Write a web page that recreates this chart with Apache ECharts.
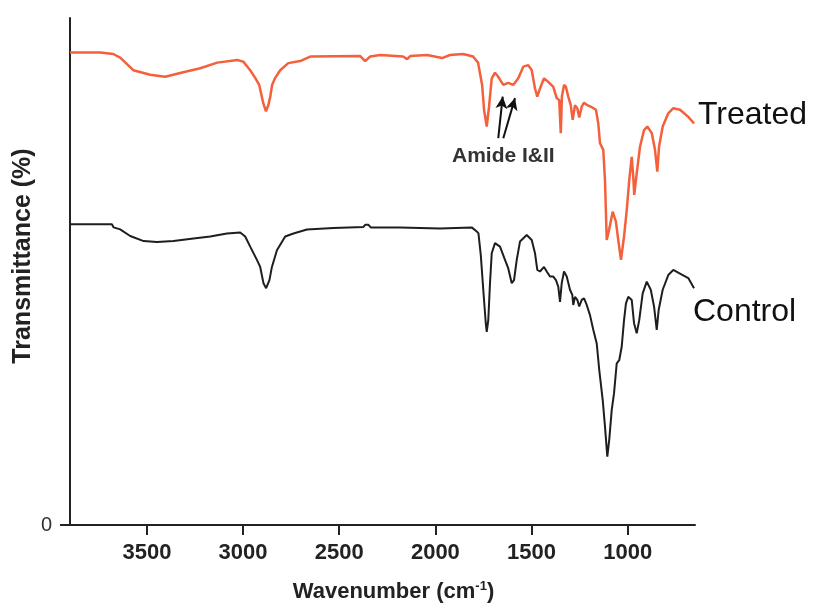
<!DOCTYPE html>
<html>
<head>
<meta charset="utf-8">
<script src="https://cdn.jsdelivr.net/npm/echarts@6/dist/echarts.min.js"></script>
<style>
html,body{margin:0;padding:0;background:#fff;}
#chart{width:815px;height:611px;}
</style>
</head>
<body>
<div id="chart"></div>
<script>
// Wavenumber (cm-1) and transmittance (arbitrary %, 0 at axis bottom)
var treatedX = [3900,3742,3675,3639,3571,3483,3405,3311,3223,3134,3030,2999,2963,2937,2916,2895,2881,2869,2859,2849,2833,2807,2765,2703,2651,2391,2365,2339,2287,2168,2147,2131,2043,1965,1924,1856,1804,1778,1757,1747,1733,1721,1707,1690,1673,1647,1621,1595,1569,1543,1517,1499,1482,1470,1456,1435,1413,1387,1369,1356,1348,1342,1331,1321,1309,1296,1286,1274,1262,1252,1239,1227,1210,1187,1165,1153,1144,1127,1118,1109,1097,1078,1061,1049,1035,1019,1005,992,979,971,966,953,936,915,898,875,858,846,837,818,789,763,728,685,655];
var treatedY = [93.2,93.2,92.9,92.2,89.7,88.8,88.4,89.3,90.1,91.2,91.7,91.4,89.7,88.2,86.8,83.2,81.6,82.8,84.4,86.8,88.2,89.7,91.1,91.5,92.4,92.5,91.5,92.4,92.7,92.4,91.9,92.5,92.7,92.1,92.7,92.9,92.4,91.2,86.8,81.9,78.6,82.5,88.1,89.2,88.4,86.8,87.2,86.8,88.1,90.4,90.7,89.7,86.1,84.5,86.1,88.1,87.4,86.4,84.2,83.8,77.3,84.5,86.8,86.4,84.5,82.8,79.9,82.8,82.2,80.4,82.5,83.3,82.8,82.4,81.9,79.2,75.3,74.0,68.0,56.2,58.2,61.8,59.8,56.2,52.3,56.9,62.1,68.0,72.6,68.7,65.1,69.4,74.6,77.9,78.6,77.3,74.0,69.7,74.6,78.6,81.2,82.2,81.9,80.5,79.2];
var controlX = [3900,3682,3673,3639,3587,3517,3448,3362,3258,3171,3084,3015,2989,2963,2928,2911,2894,2880,2863,2850,2824,2781,2738,2668,2530,2374,2365,2348,2336,2183,1976,1811,1785,1776,1764,1751,1738,1733,1725,1716,1707,1690,1664,1638,1621,1603,1591,1577,1560,1525,1499,1482,1470,1456,1435,1421,1404,1387,1373,1361,1352,1343,1331,1317,1300,1288,1283,1274,1262,1252,1239,1227,1213,1196,1179,1161,1148,1130,1118,1106,1096,1083,1071,1057,1044,1031,1019,1009,997,979,967,953,940,922,901,880,863,849,839,818,789,763,728,685,655];
var controlY = [59.3,59.3,58.7,58.3,57.0,56.0,55.8,56.0,56.5,56.9,57.5,57.7,56.9,54.9,52.3,50.9,47.7,46.7,48.3,50.9,54.2,56.9,57.5,58.3,58.6,58.8,59.2,59.2,58.7,58.7,58.5,58.7,57.9,57.5,53.3,46.4,39.8,38.1,40.4,47.7,53.6,55.6,54.9,52.3,50.6,47.7,48.3,52.3,55.9,57.2,56.2,53.6,50.3,50.0,50.9,50.0,49.0,49.0,48.3,47.0,44.0,47.7,50.0,49.0,46.4,45.4,43.4,45.0,44.4,43.1,44.4,44.7,43.4,41.4,38.5,35.8,30.6,24.7,19.4,13.5,16.8,22.7,26.0,31.9,32.5,35.2,40.4,43.7,45.0,44.4,39.8,37.8,40.4,45.7,48.0,46.4,43.1,38.5,42.4,46.4,49.3,50.3,49.6,48.7,46.7];
var xTickValues = [3500,3000,2500,2000,1500,1000];
var yTickValues = [0];
// Amide I & II arrows: [start wavenumber, start value, end wavenumber, end value]
var amideArrows = [[1673,76.3,1650,84.5],[1647,76.3,1586,84.2]];

function zip(xs, ys){ var out=[]; for (var i=0;i<xs.length;i++) out.push([xs[i], ys[i]]); return out; }

var chart = echarts.init(document.getElementById('chart'), null, {renderer:'canvas'});
var axisColor = '#222';
chart.setOption({
  animation:false,
  backgroundColor:'#fff',
  grid:{left:70, right:120, top:18, bottom:86},
  xAxis:{
    type:'value', inverse:true, min:650, max:3900,
    name:'Wavenumber (cm{sup|-1})', nameLocation:'middle', nameGap:55,
    nameTextStyle:{fontFamily:'Liberation Sans', fontWeight:'bold', fontSize:22, color:'#222', padding:[0,0,0,22],
      rich:{sup:{fontFamily:'Liberation Sans', fontWeight:'bold', fontSize:13, color:'#222', verticalAlign:'top', padding:[0,0,11,0]}}},
    axisLine:{onZero:false, lineStyle:{color:axisColor, width:2}},
    axisTick:{show:true, length:10, lineStyle:{color:axisColor, width:2}, customValues:xTickValues},
    axisLabel:{customValues:xTickValues, margin:17, fontFamily:'Liberation Sans', fontWeight:'bold', fontSize:22, color:'#222',
      formatter:function(v){ return String(v); }},
    splitLine:{show:false}
  },
  yAxis:{
    type:'value', min:0, max:100,
    axisLine:{show:true, lineStyle:{color:axisColor, width:2}},
    axisTick:{show:true, length:10, lineStyle:{color:axisColor, width:2}, customValues:yTickValues},
    axisLabel:{customValues:yTickValues, margin:18, fontFamily:'Liberation Sans', fontSize:20, color:'#333',
      formatter:function(v){ return String(v); }},
    splitLine:{show:false}
  },
  series:[
    {type:'line', name:'Treated', data:zip(treatedX, treatedY), showSymbol:false, symbol:'none',
     lineStyle:{color:'#f4603c', width:2.5}, z:3,
     markLine:{silent:true, symbol:['none','arrow'], symbolSize:[9,12],
       lineStyle:{color:'#111', width:2, type:'solid'}, label:{show:false},
       data: amideArrows.map(function(a){ return [{coord:[a[0],a[1]]},{coord:[a[2],a[3]]}]; })}
    },
    {type:'line', name:'Control', data:zip(controlX, controlY), showSymbol:false, symbol:'none',
     lineStyle:{color:'#1e1e1e', width:2}, z:2}
  ],
  graphic:[
    {type:'text', x:23, y:256, rotation:Math.PI/2,
     style:{text:'Transmittance (%)', align:'center', verticalAlign:'middle', font:'bold 25px "Liberation Sans"', fill:'#222'}},
    {type:'text', left:698, top:99, style:{text:'Treated', font:'32px "Liberation Sans"', fill:'#111'}},
    {type:'text', left:693, top:296, style:{text:'Control', font:'32px "Liberation Sans"', fill:'#111'}},
    {type:'text', left:452, top:146, style:{text:'Amide I&II', font:'bold 21px "Liberation Sans"', fill:'#333'}}
  ]
});
</script>
</body>
</html>
